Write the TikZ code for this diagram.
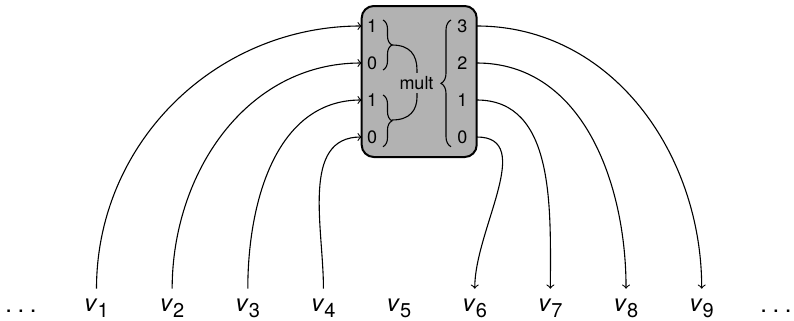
\documentclass[tikz,border=0pt]{standalone}
\usepackage{fontspec}
\setmainfont{TeX Gyre Heros}
\usetikzlibrary{positioning,decorations.pathreplacing}
\definecolor{boxgray}{gray}{0.7}
\tikzset{
  mbox/.style={draw,line width=1pt,fill=boxgray,rounded corners=6pt,minimum width=57.5pt,
    minimum height=75.5pt},
  pin/.style={font=\fontsize{9}{10}\selectfont,inner sep=2.5pt},
  vlab/.style={anchor=base,font=\fontsize{12}{14}\selectfont,inner xsep=1pt,
    inner ysep=5pt},
  wire/.style={->,line width=0.55pt},
  brc/.style={decorate,decoration={brace,amplitude=#1},line width=0.55pt},
}
\newcommand\vsub[1]{\textit{v}\raisebox{-3pt}{\fontsize{10}{12}\selectfont#1}}
\newcommand\spdots{.\hspace{2.8pt}.\hspace{2.8pt}.}

\begin{document}
\begin{tikzpicture}[x=0.5pt,y=-0.5pt]
  \useasboundingbox (0,0) rectangle (794,321);
  \node[mbox] (mul) at (419.2,81.5) {};
  % ports
  \coordinate (pa1) at (361.7,26);
  \coordinate (pa0) at (361.7,63);
  \coordinate (pb1) at (361.7,100);
  \coordinate (pb0) at (361.7,137);
  \coordinate (q3) at (476.7,26);
  \coordinate (q2) at (476.7,63);
  \coordinate (q1) at (476.7,100);
  \coordinate (q0) at (476.7,137);
  \node[pin,right=0pt of pa1] (a1) {1};
  \node[pin,right=0pt of pa0] (a0) {0};
  \node[pin,right=0pt of pb1] (b1) {1};
  \node[pin,right=0pt of pb0] (b0) {0};
  \node[pin,left=2pt of q3] (o3) {3};
  \node[pin,left=2pt of q2] (o2) {2};
  \node[pin,left=2pt of q1] (o1) {1};
  \node[pin,left=2pt of q0] (o0) {0};
  % braces
  \draw[brc=4.5pt] (383,20) -- (383,70);
  \draw[brc=4.5pt] (383,95) -- (383,146.7);
  \draw[line width=0.55pt] (392,45) .. controls (410,45) and (417,55) .. (417,70)
    -- (417,97) .. controls (417,110) and (410,120) .. (392,120);
  \draw[brc=5pt] (451,146.7) -- (451,20);
  \node[pin,fill=boxgray,inner sep=1.5pt] (op) at (416.5,83) {mult};
  % variables
  \node[vlab] (ldots) at (21,312.7) {\spdots};
  \node[vlab] (rdots) at (776,312.7) {\spdots};
  \foreach \i in {1,...,9}
    \node[vlab] (v\i) at ({96.5+75.65*(\i-1)},311.7) {\vsub{\i}};
  % wires
  \draw[wire] (v1.north) to[out=90,in=180] (pa1);
  \draw[wire] (v2.north) to[out=90,in=180] (pa0);
  \draw[wire] (v3.north) to[out=90,in=180] (pb1);
  \draw[wire] (v4.north) to[out=90,in=180] (pb0);
  \draw[wire] (q3) to[out=0,in=90] (v9.north);
  \draw[wire] (q2) to[out=0,in=90] (v8.north);
  \draw[wire] (q1) to[out=0,in=90] (v7.north);
  \draw[wire] (q0) to[out=0,in=90] (v6.north);
\end{tikzpicture}
\end{document}
